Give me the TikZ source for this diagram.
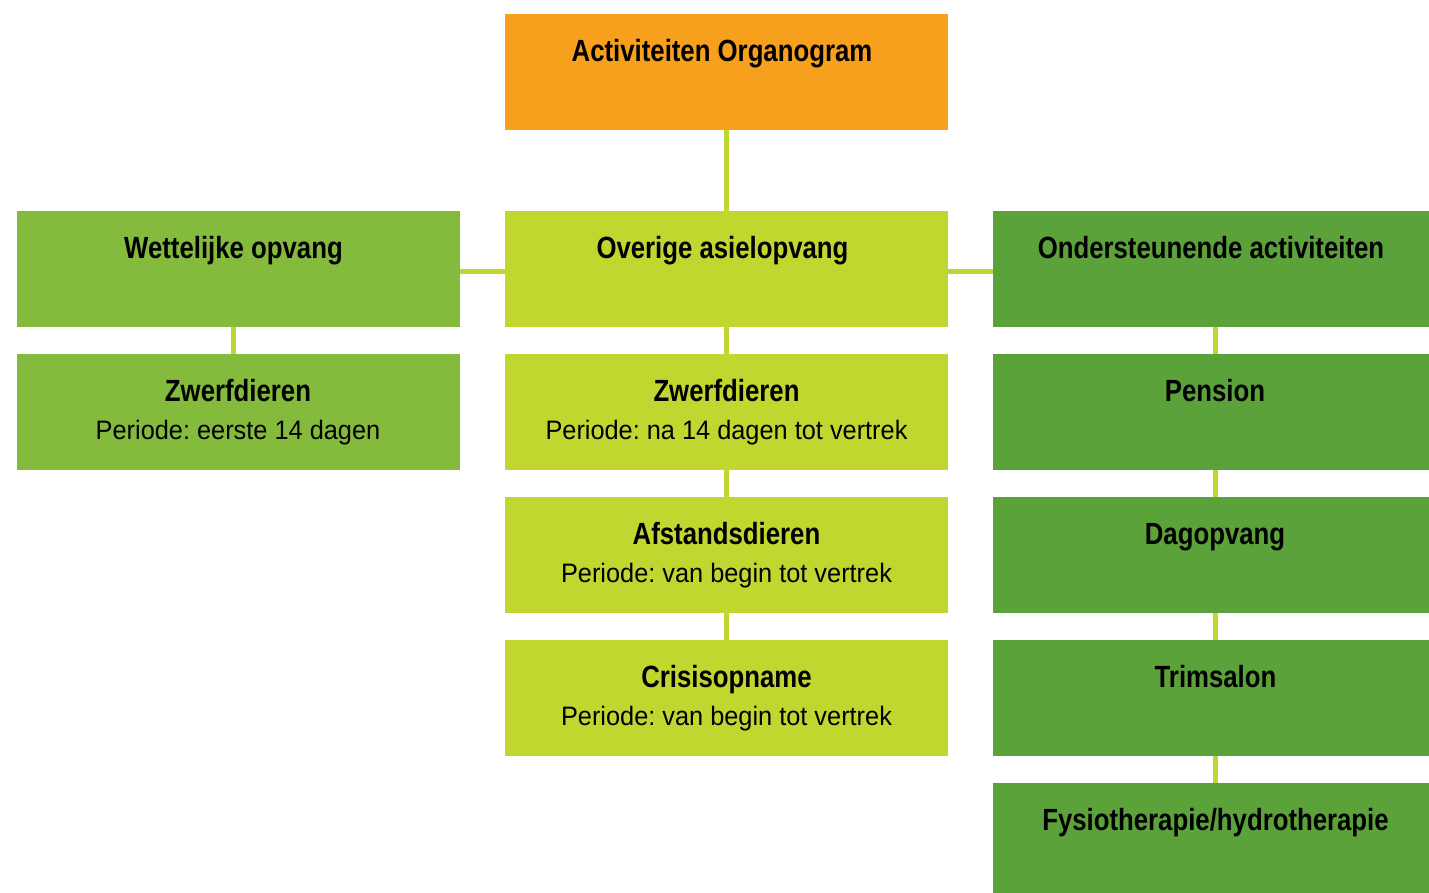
\documentclass[tikz,border=0pt]{standalone}
\usepackage{fontspec}
\setmainfont[FakeStretch=0.95]{Liberation Sans}
\newfontfamily\headfont[FakeStretch=0.84]{Liberation Sans Bold}
\frenchspacing
\definecolor{orangebox}{HTML}{F7A01E}
\definecolor{leftgreen}{HTML}{85BB3C}
\definecolor{midgreen}{HTML}{C1D730}
\definecolor{rightgreen}{HTML}{5CA23A}
\definecolor{linkcol}{HTML}{C1D730}
\tikzset{
  box/.style={draw=none, inner sep=0pt, minimum width=443*0.75pt, minimum height=116*0.75pt, anchor=north west},
  head/.style={anchor=base, inner sep=0pt, font=\fontsize{23}{27}\selectfont\headfont},
  sub/.style={anchor=base, inner sep=0pt, font=\fontsize{20}{24}\selectfont},
  link/.style={draw=linkcol, line width=5*0.75pt}
}
\begin{document}
\begin{tikzpicture}[x=0.75pt, y=-0.75pt]
\useasboundingbox (0,0) rectangle (1429,893);
% boxes
\node[box, fill=orangebox] (top) at (505,14) {};
\node[box, fill=leftgreen] (L1) at (17,211) {};
\node[box, fill=leftgreen] (L2) at (17,354) {};
\node[box, fill=midgreen] (M1) at (505,211) {};
\node[box, fill=midgreen] (M2) at (505,354) {};
\node[box, fill=midgreen] (M3) at (505,497) {};
\node[box, fill=midgreen] (M4) at (505,640) {};
\node[box, fill=rightgreen] (R1) at (993,211) {};
\node[box, fill=rightgreen] (R2) at (993,354) {};
\node[box, fill=rightgreen] (R3) at (993,497) {};
\node[box, fill=rightgreen] (R4) at (993,640) {};
\node[box, fill=rightgreen] (R5) at (993,783) {};
% connectors
\coordinate (c0) at (726.5,130);
\coordinate (c1) at (726.5,211);
\draw[link] (c0) -- (c1);
\coordinate (h1) at (460,271);
\coordinate (h2) at (505,271);
\draw[link] (h1) -- (h2);
\coordinate (h3) at (948,271);
\coordinate (h4) at (993,271);
\draw[link] (h3) -- (h4);
\coordinate (l1) at (233,327);
\coordinate (l2) at (233,354);
\draw[link] (l1) -- (l2);
\foreach \a/\b in {327/354,470/497,613/640} {
  \coordinate (ma) at (726.5,\a);
  \coordinate (mb) at (726.5,\b);
  \draw[link] (ma) -- (mb);
}
\foreach \a/\b in {327/354,470/497,613/640,756/783} {
  \coordinate (ra) at (1215.5,\a);
  \coordinate (rb) at (1215.5,\b);
  \draw[link] (ra) -- (rb);
}
% texts
\node[head] (ttop) at (722,61) {Activiteiten Organogram};
\node[head] (tL1) at (233.5,258) {Wettelijke opvang};
\node[head] (tM1) at (722.5,258) {Overige asielopvang};
\node[head] (tR1) at (1211,258) {Ondersteunende activiteiten};
\node[head] (tL2) at (238,401) {Zwerfdieren};
\node[sub] (sL2) at (238,439) {Periode: eerste 14 dagen};
\node[head] (tM2) at (726.5,401) {Zwerfdieren};
\node[sub] (sM2) at (726.5,439) {Periode: na 14 dagen tot vertrek};
\node[head] (tM3) at (726.5,544) {Afstandsdieren};
\node[sub] (sM3) at (726.5,582) {Periode: van begin tot vertrek};
\node[head] (tM4) at (726.5,687) {Crisisopname};
\node[sub] (sM4) at (726.5,725) {Periode: van begin tot vertrek};
\node[head] (tR2) at (1215,401) {Pension};
\node[head] (tR3) at (1215,544) {Dagopvang};
\node[head] (tR4) at (1215.5,687) {Trimsalon};
\node[head] (tR5) at (1215.5,830) {Fysiotherapie/hydrotherapie};
\end{tikzpicture}
\end{document}
